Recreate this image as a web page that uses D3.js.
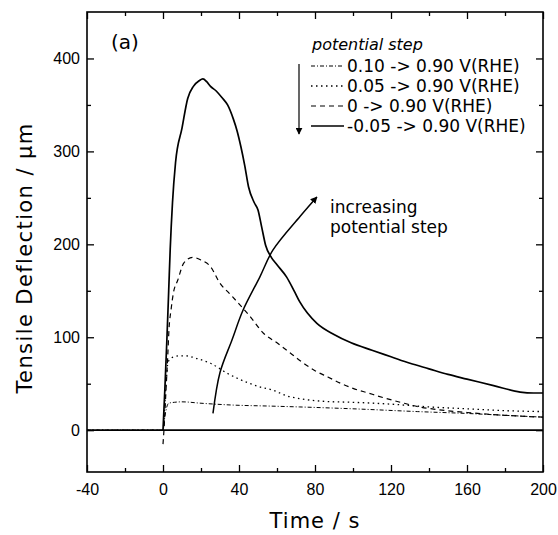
<!DOCTYPE html>
<html lang="en">
<head>
    <meta charset="UTF-8">
    <title>Tensile deflection</title>
    <script src="https://d3js.org/d3.v7.min.js"></script>
    <style>
        body { margin: 0; background: #fff; }
        svg { font-family: "DejaVu Sans", sans-serif; }
    </style>
</head>
<body>
    <div id="output"></div>
    <script>
        // values, [time s, deflection um]
        var step010 = [[-40,0],[0,0],[1,15],[2,25],[3,29],[6,30],[10,30.5],[20,29],[37,27],[55,26],[72,25],[100,23],[134,20],[160,18],[180,16],[200,14]];
        var step005 = [[-40,0],[0,0],[1,30],[2,60],[2.5,72],[4,77],[6,79],[9,80],[12,80],[18,77],[25,72],[34,61],[40,55],[46,50],[52,46],[58,43],[65,37],[72,34],[85,31],[100,30],[120,28],[140,25],[160,23],[180,21],[200,20]];
        var step000 = [[0,-15],[0.5,0],[1.5,40],[2.5,80],[3.2,110],[4.2,129],[5.5,148],[7.7,161],[11,180],[15.6,186],[20,183],[25,176],[30,158],[35,147],[40,136],[46,122],[53,104],[60,94],[67,83],[72,75],[80,64],[87,57],[94,50],[100,45],[108,40],[116,35],[125,30],[135,25],[145,22],[160,19],[180,16],[200,14]];
        var stepm005 = [[0,0],[1,45],[2,95],[3,150],[3.8,195],[5,245],[6.6,288],[10,325],[13,357],[16,370],[19,376],[21,378],[23,375],[25,370],[28,365],[31,358],[34,350],[37,335],[39,322],[41,305],[43,285],[45,262],[48,245],[50,237],[52,218],[54,199],[57,186],[60,178],[65,165],[69,150],[72,138],[76,126],[81,115],[90,103],[99,94],[110,86],[120,79],[130,72],[140,66],[150,60],[160,55],[174,48],[188,41],[195,40],[200,40]];
        var baseline = [[-40,0],[200,0]];
        var arrowPath = [[26.3,18],[30,62],[36.3,97],[42.1,129],[51,165],[57.9,194],[72.1,230],[81,251]];

        var legendLabels = ["0.10 -> 0.90 V(RHE)", "0.05 -> 0.90 V(RHE)", "0 -> 0.90 V(RHE)", "-0.05 -> 0.90 V(RHE)"];
        var xMajor = [-40, 0, 40, 80, 120, 160, 200];
        var xMinor = [-20, 20, 60, 100, 140, 180];
        var yMajor = [0, 100, 200, 300, 400];
        var yMinor = [50, 150, 250, 350];

        var width = 558, height = 535;
        var pLeft = 87, pRight = 543, pTop = 12, pBottom = 472;

        var x = d3.scaleLinear().domain([-40, 200]).range([pLeft, pRight]);
        var y = d3.scaleLinear().domain([-45, 450]).range([pBottom, pTop]);

        var svg = d3.select("#output").append("svg")
            .attr("width", width)
            .attr("height", height);

        svg.append("defs").append("marker")
            .attr("id", "head")
            .attr("viewBox", "0 0 10 10")
            .attr("refX", 9).attr("refY", 5)
            .attr("markerWidth", 7).attr("markerHeight", 7)
            .attr("markerUnits", "userSpaceOnUse")
            .attr("orient", "auto")
            .append("path")
            .attr("d", "M0,0L10,5L0,10z")
            .attr("fill", "#000");

        var fmt = function(d) { return String(d); };

        // axes, ticks pointing in
        function styleAxis(g) {
            g.select(".domain").remove();
            g.selectAll("line").attr("stroke", "#000").attr("stroke-width", 1.3);
            g.selectAll("text").attr("fill", "#000").style("font-size", "16px");
        }

        svg.append("g").attr("transform", "translate(0," + pBottom + ")")
            .call(d3.axisBottom(x).tickValues(xMajor).tickSize(-7).tickPadding(12).tickFormat(fmt))
            .call(styleAxis);
        svg.append("g").attr("transform", "translate(0," + pBottom + ")")
            .call(d3.axisBottom(x).tickValues(xMinor).tickSize(-4).tickFormat(""))
            .call(styleAxis);
        svg.append("g").attr("transform", "translate(0," + pTop + ")")
            .call(d3.axisTop(x).tickValues(xMajor).tickSize(-7).tickFormat(""))
            .call(styleAxis);
        svg.append("g").attr("transform", "translate(0," + pTop + ")")
            .call(d3.axisTop(x).tickValues(xMinor).tickSize(-4).tickFormat(""))
            .call(styleAxis);

        svg.append("g").attr("transform", "translate(" + pLeft + ",0)")
            .call(d3.axisLeft(y).tickValues(yMajor).tickSize(-7).tickPadding(7).tickFormat(fmt))
            .call(styleAxis);
        svg.append("g").attr("transform", "translate(" + pLeft + ",0)")
            .call(d3.axisLeft(y).tickValues(yMinor).tickSize(-4).tickFormat(""))
            .call(styleAxis);
        svg.append("g").attr("transform", "translate(" + pRight + ",0)")
            .call(d3.axisRight(y).tickValues(yMajor).tickSize(-7).tickFormat(""))
            .call(styleAxis);
        svg.append("g").attr("transform", "translate(" + pRight + ",0)")
            .call(d3.axisRight(y).tickValues(yMinor).tickSize(-4).tickFormat(""))
            .call(styleAxis);

        svg.append("rect")
            .attr("x", pLeft).attr("y", pTop)
            .attr("width", pRight - pLeft).attr("height", pBottom - pTop)
            .attr("fill", "none").attr("stroke", "#000").attr("stroke-width", 1.6);

        var line = d3.line()
            .x(function(d) { return x(d[0]); })
            .y(function(d) { return y(d[1]); })
            .curve(d3.curveMonotoneX);

        var series = [
            { data: step010, dash: "4,2,1,2", w: 1 },
            { data: step005, dash: "1.5,3.5", w: 1.3 },
            { data: step000, dash: "5,4", w: 1.2 },
            { data: stepm005, dash: null, w: 1.7 }
        ];

        svg.append("path").attr("d", line(baseline))
            .attr("fill", "none").attr("stroke", "#000").attr("stroke-width", 1.8);

        svg.selectAll(".curve")
            .data(series)
            .enter().append("path")
            .attr("class", "curve")
            .attr("d", function(d) { return line(d.data); })
            .attr("fill", "none")
            .attr("stroke", "#000")
            .attr("stroke-width", function(d) { return d.w; })
            .attr("stroke-dasharray", function(d) { return d.dash; });

        // curved annotation arrow
        svg.append("path")
            .attr("d", d3.line()
                .x(function(d) { return x(d[0]); })
                .y(function(d) { return y(d[1]); })
                .curve(d3.curveCatmullRom)(arrowPath))
            .attr("fill", "none").attr("stroke", "#000").attr("stroke-width", 1.5)
            .attr("marker-end", "url(#head)");

        svg.append("text").attr("x", 330).attr("y", 213)
            .style("font-size", "17px").text("increasing");
        svg.append("text").attr("x", 330).attr("y", 233)
            .style("font-size", "17px").text("potential step");

        svg.append("text").attr("x", 111).attr("y", 49)
            .style("font-size", "20px").text("(a)");

        // legend
        svg.append("text").attr("x", 312).attr("y", 50)
            .style("font-size", "16px").style("font-style", "italic").text("potential step");

        var rows = svg.selectAll(".row")
            .data(series)
            .enter().append("g")
            .attr("class", "row")
            .attr("transform", function(d, i) { return "translate(0," + (66 + i * 20) + ")"; });

        rows.append("line")
            .attr("x1", 311).attr("x2", 344)
            .attr("stroke", "#000")
            .attr("stroke-width", function(d) { return d.w; })
            .attr("stroke-dasharray", function(d) { return d.dash; });

        rows.append("text")
            .attr("x", 347).attr("y", 6)
            .style("font-size", "17px")
            .text(function(d, i) { return legendLabels[i]; });

        svg.append("line")
            .attr("x1", 299).attr("x2", 299).attr("y1", 64).attr("y2", 134)
            .attr("stroke", "#000").attr("stroke-width", 1.2)
            .attr("marker-end", "url(#head)");

        // axis titles
        svg.append("text")
            .attr("transform", "translate(32,258) rotate(-90)")
            .attr("text-anchor", "middle")
            .style("font-size", "21px").style("letter-spacing", "1.4px")
            .text("Tensile Deflection /  \u00b5m");

        svg.append("text")
            .attr("x", (pLeft + pRight) / 2)
            .attr("y", 528)
            .attr("text-anchor", "middle")
            .style("font-size", "21px").style("letter-spacing", "1px")
            .text("Time / s");
    </script>
</body>
</html>
